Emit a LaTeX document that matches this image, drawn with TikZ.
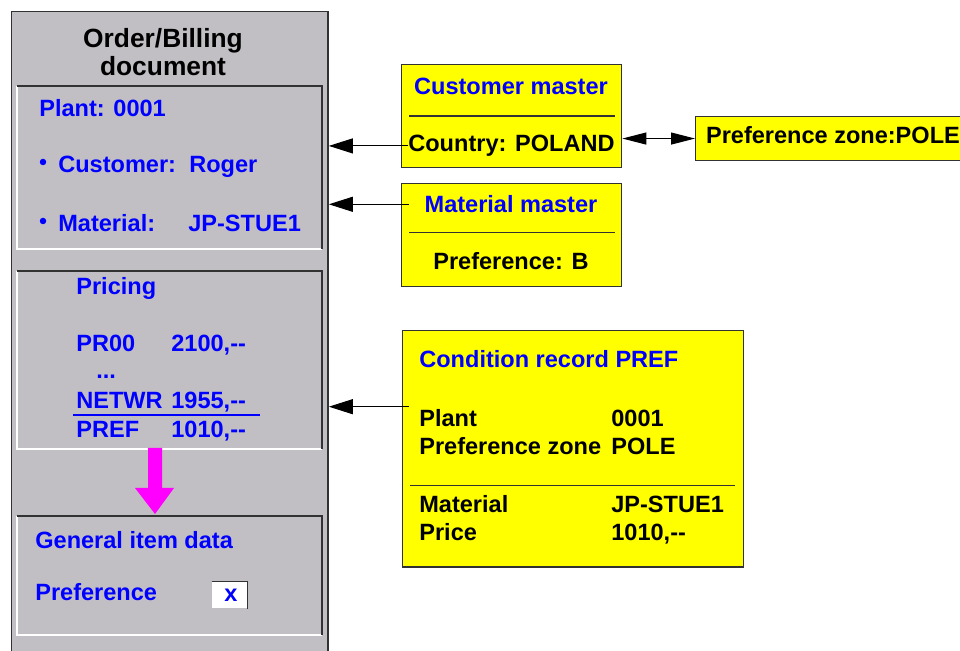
\documentclass[tikz,border=0pt]{standalone}
\usepackage{fontspec}
\setmainfont{Liberation Sans}[Ligatures=TeXOff]
\usetikzlibrary{arrows.meta}

\definecolor{docgray}{RGB}{194,191,196}
\definecolor{docblue}{RGB}{0,0,255}
\definecolor{boxline}{RGB}{50,50,50}
\definecolor{boxyellow}{RGB}{255,255,0}
\definecolor{flowpink}{RGB}{255,0,255}

\tikzset{
  bodyfont/.style={font=\bfseries\fontsize{13.4}{16}\selectfont, inner sep=0pt},
  bluetext/.style={bodyfont, text=docblue, anchor=base west},
  blacktext/.style={bodyfont, text=black, anchor=base west},
  panel/.style={fill=docgray, minimum width=6.08cm, anchor=north west, inner sep=0pt},
  yellowbox/.style={draw=boxline, fill=boxyellow, line width=0.8pt, anchor=north west, inner sep=0pt},
  divider/.style={draw=boxline, line width=0.8pt},
  link/.style={line width=0.6pt, -{Triangle[length=4.8mm,width=3mm]}},
}

\begin{document}
\begin{tikzpicture}[x=0.02cm, y=-0.02cm]
    \useasboundingbox (0,0) rectangle (960,651);
    \clip (0,0) rectangle (960,651);

    % Order/Billing document
    \node[draw=boxline, line width=0.8pt, fill=docgray, minimum width=6.33cm, minimum height=13.2cm, anchor=north west, inner sep=0pt] (doc) at (11,11) {};
    \node[font=\bfseries\fontsize{15}{18}\selectfont, inner sep=0pt, anchor=base] (title1) at (163,48) {Order/Billing};
    \node[font=\bfseries\fontsize{15}{18}\selectfont, inner sep=0pt, anchor=base] (title2) at (163,76) {document};

    % Panels
    \node[panel, minimum height=3.24cm] (p1) at (17,86) {};
    \node[panel, minimum height=3.54cm] (p2) at (17,271) {};
    \node[panel, minimum height=2.37cm] (p3) at (17,515.7) {};
    \foreach \p in {p1, p2, p3} {
        \draw[white, line width=1pt] (\p.north west) -- (\p.south west) -- (\p.south east);
        \draw[boxline, line width=1pt] (\p.south east) -- (\p.north east) -- (\p.north west);
    }

    % Header data
    \node[bluetext] (plant) at (39,117) {Plant: 0001};
    \fill[docblue] (43,162) circle (0.065cm);
    \node[bluetext] (custlab) at (58,173) {Customer:};
    \node[bluetext] (custval) at (189,173) {Roger};
    \fill[docblue] (43,221) circle (0.065cm);
    \node[bluetext] (matlab) at (58,232) {Material:};
    \node[bluetext] (matval) at (188,232) {JP-STUE1};

    % Pricing
    \node[bluetext] (pricing) at (76,295) {Pricing};
    \foreach \i/\code/\amt/\yy in {1/PR00/{2100,--}/351.7, 2/NETWR/{1955,--}/409, 3/PREF/{1010,--}/438} {
        \node[bluetext] (code\i) at (76,\yy) {\code};
        \node[bluetext] (amt\i) at (171,\yy) {\amt};
    }
    \node[bluetext] (dots) at (96,379) {...};
    \draw[docblue, line width=1.1pt] (73,415.3) -- (260,415.3);

    % Transfer to item data
    \fill[flowpink] (148,448) -- (162,448) -- (162,488) -- (174,488) -- (155,514)
        -- (135,488) -- (148,488) -- cycle;

    % General item data
    \node[bluetext] (general) at (35,548) {General item data};
    \node[bluetext] (preflab) at (35,600) {Preference};
    \node[fill=white, minimum width=0.694cm, minimum height=0.526cm, anchor=north west, inner sep=0pt] (xbox) at (212,581.7) {};
    \draw[boxline, line width=0.8pt] (xbox.north west) -- (xbox.north east) -- (xbox.south east);
    \node[bodyfont, text=docblue, anchor=base] (xmark) at (231,601.7) {x};

    % Customer master
    \node[yellowbox, minimum width=4.4cm, minimum height=2.06cm] (custbox) at (401,64) {};
    \node[bodyfont, text=docblue, anchor=base] (custhead) at (511,95) {Customer master};
    \draw[divider] (409,116) -- (614.7,116);
    \node[blacktext] (country) at (408,151.7) {Country: POLAND};

    % Material master
    \node[yellowbox, minimum width=4.4cm, minimum height=2.06cm] (matbox) at (401,183) {};
    \node[bodyfont, text=docblue, anchor=base] (mathead) at (511,212.7) {Material master};
    \draw[divider] (409,232.7) -- (614.7,232.7);
    \node[bodyfont, anchor=base] (matpref) at (511,270) {Preference: B};

    % Preference zone
    \node[yellowbox, minimum width=6cm, minimum height=0.886cm] (zone) at (695,115.7) {};
    \node[blacktext] (zonetext) at (705.7,143.3) {Preference zone:POLE};

    % Condition record
    \node[yellowbox, minimum width=6.82cm, minimum height=4.73cm] (condbox) at (401.7,330) {};
    \node[bluetext] (condhead) at (419,368) {Condition record PREF};
    \foreach \i/\lab/\val/\yy in {1/Plant/0001/426.7, 2/Preference zone/POLE/455, 3/Material/JP-STUE1/512.7, 4/Price/{1010,--}/540.7} {
        \node[blacktext] (clab\i) at (419,\yy) {\lab};
        \node[blacktext] (cval\i) at (611,\yy) {\val};
    }
    \draw[divider] (410,485.7) -- (735,485.7);

    % Links to the document
    \coordinate (matfrom) at (409,204.3);
    \coordinate (condfrom) at (409,406.7);
    \draw[link] (country.west) -- (country.west -| doc.east);
    \draw[link] (matfrom) -- (matfrom -| doc.east);
    \draw[link] (condfrom) -- (condfrom -| doc.east);
    \draw[line width=0.6pt, {Triangle[length=4.8mm,width=2.4mm]}-{Triangle[length=4.8mm,width=2.4mm]}] (zone.west -| custbox.east) -- (zone.west);
\end{tikzpicture}
\end{document}
